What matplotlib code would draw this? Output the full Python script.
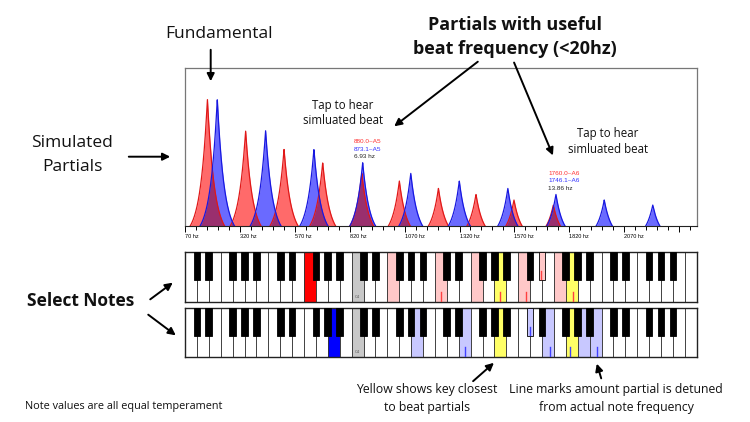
import numpy as np
import matplotlib.pyplot as plt
from matplotlib.patches import Rectangle, FancyArrowPatch

W, H = 750, 422

# partial peaks as drawn on the chart (hz), heights relative to the fundamental
red_partials = [172, 346, 521, 697, 875, 1046, 1224, 1395, 1568, 1747]
blue_partials = [217, 437, 657, 879, 1098, 1319, 1540, 1759, 1979, 2200]
partial_amps = [1.096, 0.846, 0.699, 0.593, 0.510, 0.449, 0.391, 0.344, 0.299, 0.259]
peak_decay = 31.9   # hz
floor = 0.096       # amplitude at the chart's baseline

tick_hz = [70, 320, 570, 820, 1070, 1320, 1570, 1820, 2070, 2320]
tick_labels = ['70 hz', '320 hz', '570 hz', '820 hz', '1070 hz', '1320 hz',
               '1570 hz', '1820 hz', '2070 hz', '']

# beat labels
beat1 = ['880.0~A5', '873.1~A5', '6.93 hz']
beat2 = ['1760.0~A6', '1746.1~A6', '13.86 hz']

# keyboards
top_selected = 'F3'
top_partial_keys = ['F4', 'C5', 'F5', 'C6', 'D#6', 'F6']
bottom_selected = 'A3'
bottom_partial_keys = ['A4', 'E5', 'C#6', 'E6', 'A6', 'B6']
beat_keys = ['A5', 'G6']
top_detune_keys = ['C5', 'A5', 'C6', 'D#6', 'G6']
top_detune_cents = [5, -4, 12, -6, 13]
bottom_detune_keys = ['E5', 'C#6', 'E6', 'G6', 'B6']
bottom_detune_cents = [6, 3, 14, -17, 15]

WHITE = ['C', 'D', 'E', 'F', 'G', 'A', 'B']
N_WHITE = 43
BW, BH = 0.56, 0.57

FONT = 'Open Sans'


def px(x, y):
    return x / W, 1 - y / H


def key_geom(name):
    octave = int(name[-1])
    i = (octave - 2) * 7 + WHITE.index(name[0])
    if '#' in name:
        return i + 1 - BW / 2, BW, True
    return i, 1.0, False


def draw_keyboard(ax, selected, sel_color, partial_keys, light_color,
                  detune_keys, detune_cents, line_color):
    def color_of(name, default):
        if name == selected:
            return sel_color
        if name in beat_keys:
            return '#ffff66'
        if name in partial_keys:
            return light_color
        if name == 'C4':
            return '#c8c8c8'
        return default

    for i in range(N_WHITE):
        name = WHITE[i % 7] + str(2 + i // 7)
        ax.add_patch(Rectangle((i, 0), 1, 1, facecolor=color_of(name, 'white'),
                               edgecolor='#333333', lw=0.6))
    ax.text(14.5, 0.1, 'C4', fontsize=2.8, color='#555555', ha='center',
            va='center', family='DejaVu Sans')

    lines_black = []
    for name, c in zip(detune_keys, detune_cents):
        x0, w, black = key_geom(name)
        xc = x0 + w / 2 + c / 100
        if black:
            lines_black.append(xc)
        else:
            ax.plot([xc, xc], [0.02, 0.2], color=line_color, lw=1.0, zorder=3)

    for i in range(N_WHITE - 1):
        if WHITE[i % 7] in ('E', 'B'):
            continue
        name = WHITE[i % 7] + '#' + str(2 + i // 7)
        ax.add_patch(Rectangle((i + 1 - BW / 2, 1 - BH), BW, BH,
                               facecolor=color_of(name, 'black'),
                               edgecolor='black', lw=0.6, zorder=4))
    for xc in lines_black:
        ax.plot([xc, xc], [1 - BH + 0.02, 1 - BH + 0.19], color=line_color,
                lw=1.0, zorder=5)

    ax.set_xlim(0, N_WHITE)
    ax.set_ylim(0, 1)
    ax.set_xticks([])
    ax.set_yticks([])
    for s in ax.spines.values():
        s.set_linewidth(1.0)
        s.set_color('#222222')


fig = plt.figure(figsize=(W / 100, H / 100), dpi=100)

# spectrum chart
ax = fig.add_axes([185 / W, 1 - 225.7 / H, 511.7 / W, 157.4 / H])
f = np.linspace(70, 2400, 6000)


def spectrum(peaks):
    return np.max([a * np.exp(-np.abs(f - p) / peak_decay)
                   for p, a in zip(peaks, partial_amps)], axis=0)


red = spectrum(red_partials)
blue = spectrum(blue_partials)
both = np.minimum(red, blue)
ax.fill_between(f, 0, red, color='#ff6a6a', lw=0)
ax.fill_between(f, 0, blue, color='#6a6aff', lw=0)
ax.fill_between(f, 0, both, color='#9a2f6e', lw=0)
ax.plot(f, red, color='#e01818', lw=0.9)
ax.plot(f, blue, color='#1818e0', lw=0.9)
ax.set_xlim(70, 2400)
ax.set_ylim(floor, floor + 1.242)
ax.set_yticks([])
ax.set_xticks(tick_hz)
ax.set_xticklabels(tick_labels, fontsize=4, family='Liberation Sans')
for lbl in ax.get_xticklabels():
    lbl.set_horizontalalignment('left')
ax.set_xticks(np.arange(70, 2400, 50), minor=True)
ax.tick_params(axis='x', which='major', direction='out', length=4.3, width=0.7, pad=1.5)
ax.tick_params(axis='x', which='minor', direction='out', length=3, width=0.7)
for side in ('left', 'top', 'right'):
    ax.spines[side].set_color('#777777')
    ax.spines[side].set_linewidth(0.9)
ax.spines['bottom'].set_color('#222222')
ax.spines['bottom'].set_linewidth(0.8)

# beat labels inside chart
label_colors = ['#ff3030', '#3030ff', '#222222']
for (x0, y0), texts in [((354, 141.7), beat1), ((548.3, 173.3), beat2)]:
    for j, (t, c) in enumerate(zip(texts, label_colors)):
        fig.text(*px(x0, y0 + j * 7.5), t, color=c, fontsize=4.6,
                 family='Liberation Sans', va='center', ha='left')

# keyboards
ax_top = fig.add_axes([185 / W, 1 - 301.7 / H, 511.7 / W, 50 / H])
draw_keyboard(ax_top, top_selected, '#ff0000', top_partial_keys, '#ffc8c8',
              top_detune_keys, top_detune_cents, '#ff4040')
ax_bot = fig.add_axes([185 / W, 1 - 357.3 / H, 511.7 / W, 49.6 / H])
draw_keyboard(ax_bot, bottom_selected, '#0000ff', bottom_partial_keys, '#c8c8ff',
              bottom_detune_keys, bottom_detune_cents, '#4040ff')


# annotations around the chart
def label(x, y, s, size, weight='normal', ha='center'):
    fig.text(*px(x, y), s, fontsize=size, fontweight=weight, family=FONT,
             ha=ha, va='center', color='#111111')


def arrow(x1, y1, x2, y2):
    fig.add_artist(FancyArrowPatch(
        px(x1, y1), px(x2, y2), transform=fig.transFigure,
        arrowstyle='-|>', mutation_scale=11, color='black', lw=1.4))


label(219, 34, 'Fundamental', 12.5)
arrow(210.7, 47, 210.7, 84)

label(72, 143, 'Simulated', 12.5)
label(72, 167, 'Partials', 12.5)
arrow(126, 156.7, 173, 156.7)

label(515, 25, 'Partials with useful', 13, 'bold')
label(515, 49, 'beat frequency (<20hz)', 13, 'bold')
arrow(480, 60, 392, 128)
arrow(513, 60, 554, 158)

label(342.7, 105, 'Tap to hear', 8.3)
label(342.7, 121, 'simluated beat', 8.3)
label(608, 134, 'Tap to hear', 8.3)
label(608, 149.5, 'simluated beat', 8.3)

label(81, 301, 'Select Notes', 12.5, 'bold')
arrow(148, 301, 175, 281)
arrow(146, 313, 178, 337)

label(427, 389, 'Yellow shows key closest', 8.8)
label(427, 407, 'to beat partials', 8.8)
arrow(471, 383, 496, 361)

label(616, 389, 'Line marks amount partial is detuned', 8.8)
label(616, 407, 'from actual note frequency', 8.8)
arrow(602, 381, 596, 361)

label(25, 407, 'Note values are all equal temperament', 7.8, ha='left')

fig.savefig('out.png', dpi=100)
